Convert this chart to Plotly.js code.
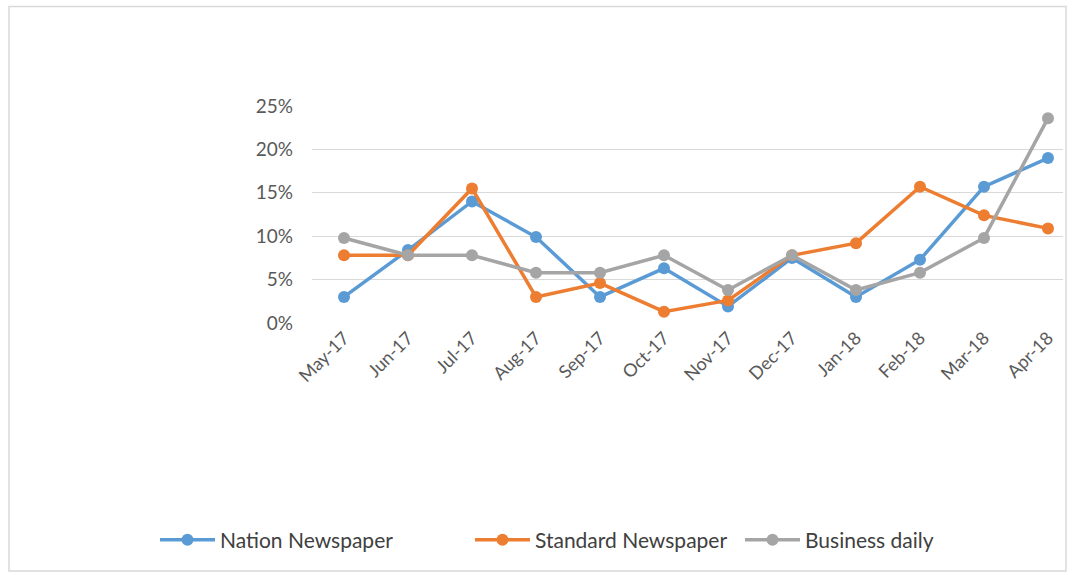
<!DOCTYPE html>
<html>
<head>
<meta charset="utf-8">
<script src="https://cdn.plot.ly/plotly-3.0.1.min.js"></script>
<style>html,body{margin:0;padding:0;background:#fff;}#chart{width:1073px;height:575px;}</style>
</head>
<body>
<div id="chart"></div>
<script>
const months = ["May-17","Jun-17","Jul-17","Aug-17","Sep-17","Oct-17","Nov-17","Dec-17","Jan-18","Feb-18","Mar-18","Apr-18"];
const nation = [0.030, 0.084, 0.140, 0.099, 0.030, 0.063, 0.019, 0.075, 0.030, 0.073, 0.157, 0.190];
const standard = [0.078, 0.078, 0.155, 0.030, 0.046, 0.013, 0.026, 0.078, 0.092, 0.157, 0.124, 0.109];
const business = [0.098, 0.078, 0.078, 0.058, 0.058, 0.078, 0.038, 0.078, 0.038, 0.058, 0.098, 0.236];
const seriesNames = ["Nation Newspaper", "Standard Newspaper", "Business daily"];
const yTicks = [0, 0.05, 0.10, 0.15, 0.20, 0.25];
const yTickText = ["0%", "5%", "10%", "15%", "20%", "25%"];

const colors = ["#5b9bd5", "#ed7d31", "#a5a5a5"];
const legendIds = ["legend", "legend2", "legend3"];
const data = [nation, standard, business].map((vals, i) => ({
  x: months.map((m, j) => j),
  y: vals,
  name: seriesNames[i],
  type: "scatter",
  mode: "lines+markers",
  line: {color: colors[i], width: 3.5},
  marker: {color: colors[i], size: 12},
  cliponaxis: false,
  legend: legendIds[i]
}));

const L = 312, R = 10, T = 106, B = 252, W = 1073, H = 575;
const pw = W - L - R, ph = H - T - B;
const px = v => (v - L) / pw;
const py = v => (H - B - v) / ph;

function leg(xpix) {
  return {
    orientation: "h", x: px(xpix), xanchor: "left", y: py(540), yanchor: "middle",
    font: {size: 21, color: "#404040"}, itemwidth: 55, bgcolor: "rgba(0,0,0,0)"
  };
}

const layout = {
  width: W, height: H,
  margin: {l: L, r: R, t: T, b: B, pad: 0},
  paper_bgcolor: "#ffffff",
  plot_bgcolor: "#ffffff",
  font: {family: "Lato, 'Open Sans', sans-serif", color: "#595959", size: 18},
  showlegend: true,
  legend: leg(155),
  legend2: leg(470),
  legend3: leg(740),
  xaxis: {
    range: [-0.5, (pw / 64) - 0.5],
    tickmode: "array", tickvals: months.map((m, j) => j), ticktext: months,
    tickangle: -45, showgrid: false, zeroline: false, showline: false,
    ticks: "", ticklen: 0, fixedrange: true,
    tickfont: {size: 18, color: "#595959"}
  },
  yaxis: {
    range: [0, 0.25], tickmode: "array", tickvals: yTicks, ticktext: yTickText,
    showgrid: true, gridcolor: "#d9d9d9", gridwidth: 1, zeroline: false, showline: false,
    ticks: "", ticklabelstandoff: 18, fixedrange: true,
    tickfont: {size: 19, color: "#595959"}
  },
  shapes: [{
    type: "rect", xref: "paper", yref: "paper",
    x0: px(9), x1: px(1066), y0: py(571), y1: py(6.5),
    line: {color: "#d9d9d9", width: 1.5}, fillcolor: "rgba(0,0,0,0)", layer: "below"
  }]
};

Plotly.newPlot("chart", data, layout, {displayModeBar: false, staticPlot: true});
</script>
</body>
</html>
